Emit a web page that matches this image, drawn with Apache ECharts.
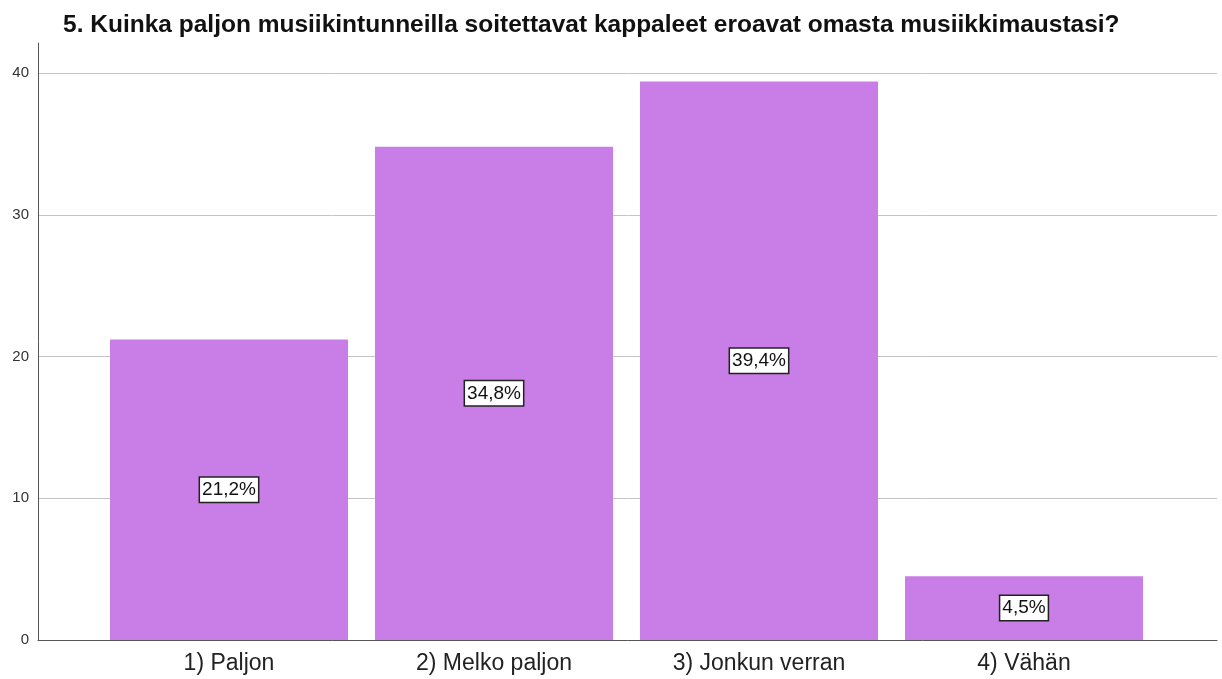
<!DOCTYPE html>
<html><head><meta charset="utf-8">
<script src="https://cdn.jsdelivr.net/npm/echarts@6/dist/echarts.min.js"></script>
<style>html,body{margin:0;padding:0;background:#fff}#c{width:1222px;height:679px}</style>
</head><body><div id="c"></div>
<script>
const titleText = '5. Kuinka paljon musiikintunneilla soitettavat kappaleet eroavat omasta musiikkimaustasi?';
const categories = ['1) Paljon', '2) Melko paljon', '3) Jonkun verran', '4) Vähän'];
const percentValues = [21.2, 34.8, 39.4, 4.5];
const yTicks = [0, 10, 20, 30, 40];

const chart = echarts.init(document.getElementById('c'));
const font = 'Liberation Sans, Arial, sans-serif';
chart.setOption({
  animation: false,
  title: { text: titleText, left: 58, top: 8,
    textStyle: { fontFamily: font, fontSize: 24.5, fontWeight: 'bold', color: '#111' } },
  grid: [
    { left: 38, right: 5, top: 43, bottom: 39 },
    { left: 38, right: 5, top: 73, bottom: 39 },
    { left: 96.5, right: 65.5, top: 73, bottom: 39 }
  ],
  xAxis: [
    { gridIndex: 0, type: 'value', show: false, min: 0, max: 1 },
    { gridIndex: 1, type: 'value', min: 0, max: 1, axisLine: { show: true, lineStyle: { color: '#555', width: 1 } },
      axisTick: { show: false }, axisLabel: { show: false }, splitLine: { show: false } },
    { gridIndex: 2, type: 'category', data: categories, axisLine: { show: false }, axisTick: { show: false },
      axisLabel: { fontFamily: font, fontSize: 23, color: '#222', margin: 12 } }
  ],
  yAxis: [
    { gridIndex: 0, type: 'value', min: 0, max: 42.1, axisLine: { show: true, lineStyle: { color: '#555', width: 1 } },
      axisTick: { show: false }, axisLabel: { show: false }, splitLine: { show: false } },
    { gridIndex: 1, type: 'value', min: yTicks[0], max: yTicks[yTicks.length - 1], interval: 10,
      axisLine: { show: false }, axisTick: { show: false },
      axisLabel: { fontFamily: font, fontSize: 15, color: '#333', margin: 9 },
      splitLine: { show: true, lineStyle: { color: '#c4c4c4', width: 1 } } },
    { gridIndex: 2, type: 'value', min: 0, max: 40, show: false }
  ],
  series: [{
    type: 'bar', xAxisIndex: 2, yAxisIndex: 2, data: percentValues, barWidth: 238,
    itemStyle: { color: '#C87EE6' },
    label: { show: true, position: 'inside', formatter: p => String(p.value).replace('.', ',') + '%',
      fontFamily: font, fontSize: 19, color: '#111', backgroundColor: '#fff',
      borderColor: '#222', borderWidth: 1.5, padding: [3, 2, 2, 2] }
  }]
});
</script></body></html>
